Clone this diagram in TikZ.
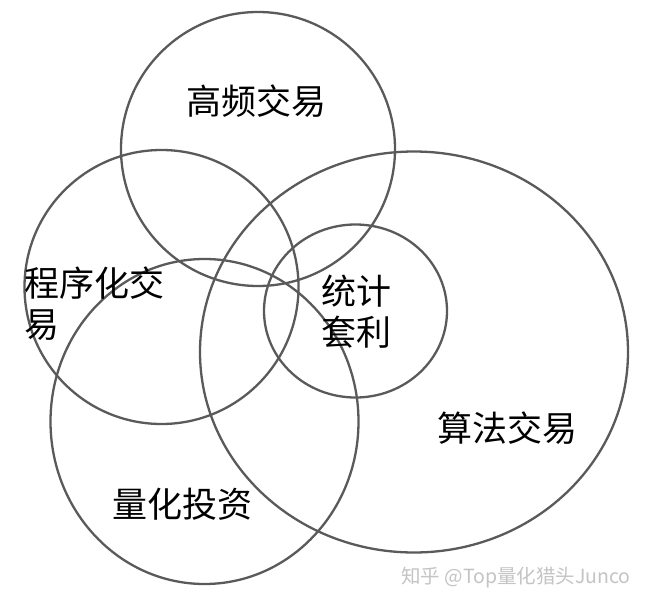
\documentclass[tikz,border=0pt]{standalone}
\usepackage{fontspec}
\setmainfont{Noto Sans CJK SC}
\definecolor{ring}{HTML}{5A5A5A}
\definecolor{wm}{HTML}{C4C4C4}
\begin{document}
\begin{tikzpicture}[x=1bp,y=-1bp,
  ringline/.style={draw=ring,line width=2.3bp},
  lbltext/.style={inner sep=0pt,font=\fontsize{35bp}{41bp}\selectfont,text=black},
  wmtext/.style={inner sep=0pt,font=\fontsize{19.5bp}{22bp}\selectfont,text=wm}]
\useasboundingbox (0,0) rectangle (650,608);
\fill[white] (0,0) rectangle (650,608);
% rings
\draw[ringline] (258,149) circle (137);
\draw[ringline] (161.5,287) circle (137);
\draw[ringline] (204.5,421.5) ellipse (154 and 162.5);
\draw[ringline] (414,352) ellipse (214 and 200.5);
\draw[ringline] (355.5,311) ellipse (91.5 and 86.5);
% labels
\node[lbltext] (hft) at (256,101) {高频交易};
\node[lbltext,align=left,anchor=west] (prog) at (24,303.5) {程序化交\\易};
\node[lbltext,align=center] (stat) at (356,312) {统计\\套利};
\node[lbltext] (algo) at (507,428) {算法交易};
\node[lbltext] (quant) at (182,504) {量化投资};
\node[wmtext] (wmark) at (516,578) {知乎 @Top量化猎头Junco};
\end{tikzpicture}
\end{document}
